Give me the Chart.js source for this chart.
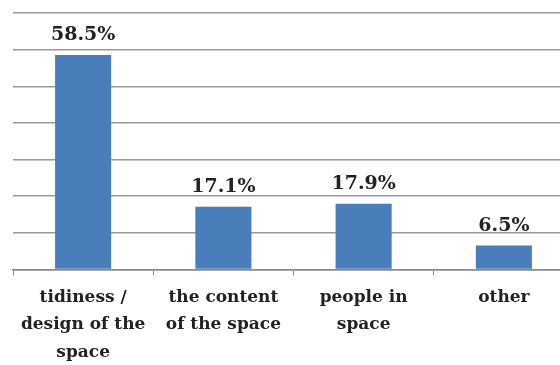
<!DOCTYPE html>
<html><head><meta charset="utf-8">
<script src="https://cdn.jsdelivr.net/npm/chart.js@4/dist/chart.umd.min.js"></script>
<style>
html,body{margin:0;padding:0;background:#fff;overflow:hidden;}
#wrap{width:574px;height:374px;position:relative;}
</style></head>
<body><div id="wrap"><canvas id="c"></canvas></div>
<script>
const categories = [["tidiness /","design of the","space"],["the content","of the space"],["people in","space"],["other"]];
const values = [58.5, 17.1, 17.9, 6.5];
const valueLabels = ["58.5%","17.1%","17.9%","6.5%"];
const yMax = 70, yStep = 10;

const labelPlugin = {
  id:'valLabels',
  afterDatasetsDraw(chart){
    const ctx = chart.ctx;
    const meta = chart.getDatasetMeta(0);
    ctx.save();
    ctx.font = 'bold 19px "DejaVu Serif"';
    ctx.fillStyle = '#222';
    ctx.textAlign = 'center';
    ctx.textBaseline = 'alphabetic';
    meta.data.forEach((bar,i)=>{
      ctx.fillText(valueLabels[i], bar.x, bar.y - 15);
    });
    ctx.restore();
  }
};

new Chart(document.getElementById('c'), {
  type:'bar',
  data:{labels:categories, datasets:[{data:values, backgroundColor:'#4a7ebb', borderWidth:0, barPercentage:0.4, categoryPercentage:1}]},
  options:{
    responsive:true, maintainAspectRatio:false, animation:false,
    layout:{padding:{left:13,top:13,right:0,bottom:0}},
    plugins:{legend:{display:false}, tooltip:{enabled:false}},
    scales:{
      x:{
        offset:true,
        grid:{display:true, drawOnChartArea:false, offset:true, tickLength:6, color:'#888', lineWidth:1},
        border:{display:true, color:'#888', width:1.5},
        ticks:{color:'#222', font:{family:'"DejaVu Serif"', weight:'bold', size:17, lineHeight:1.62}, padding:8, maxRotation:0, autoSkip:false}
      },
      y:{
        min:0, max:yMax,
        ticks:{display:false, stepSize:yStep},
        grid:{color:'#999', lineWidth:1.5, drawTicks:false},
        border:{display:false}
      }
    }
  },
  plugins:[labelPlugin]
});
</script></body></html>
